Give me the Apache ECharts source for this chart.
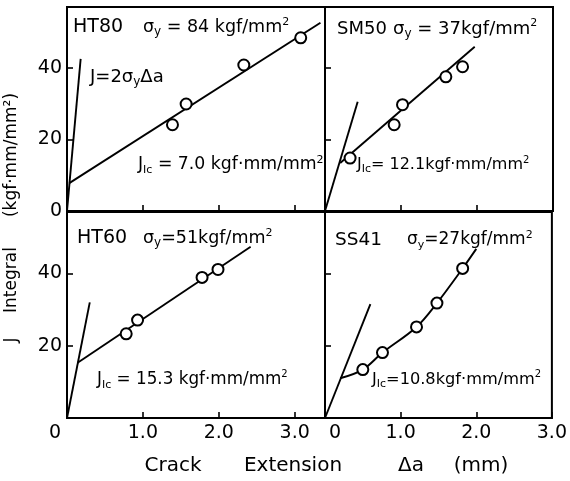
<!DOCTYPE html>
<html>
<head>
<meta charset="utf-8">
<script src="https://cdn.jsdelivr.net/npm/echarts@6/dist/echarts.min.js"></script>
<style>html,body{margin:0;padding:0;background:#fff}#c{width:570px;height:481px}</style>
</head>
<body>
<div id="c"></div>
<script>
// ---- data (Δa in mm, J in kgf·mm/mm²) ----
const xTicks = [0, 1, 2, 3];
const yTicks = [0, 20, 40];

// HT80
const ht80Da = [1.39, 1.57, 2.33, 3.08];
const ht80J = [24.1, 29.9, 40.8, 48.4];
const ht80FitDa = [0.03, 3.34];
const ht80FitJ = [7.8, 52.6];
const ht80BluntDa = [0, 0.18];
const ht80BluntJ = [0, 42.5];

// SM50
const sm50Da = [0.33, 0.91, 1.02, 1.59, 1.81];
const sm50J = [14.8, 24.1, 29.7, 37.5, 40.3];
const sm50FitDa = [0.2, 1.97];
const sm50FitJ = [13.4, 45.9];
const sm50BluntDa = [0, 0.43];
const sm50BluntJ = [0, 30.5];

// HT60
const ht60Da = [0.78, 0.93, 1.78, 1.99];
const ht60J = [23.3, 27.1, 38.9, 41.1];
const ht60FitDa = [0.14, 2.42];
const ht60FitJ = [15.3, 47.4];
const ht60BluntDa = [0, 0.30];
const ht60BluntJ = [0, 32];

// SS41
const ss41Da = [0.50, 0.76, 1.21, 1.48, 1.82];
const ss41J = [13.4, 18.1, 25.2, 31.8, 41.4];
const ss41CurveDa = [0.2, 0.5, 0.76, 1.21, 1.48, 1.82, 2.0];
const ss41CurveJ = [11, 13.4, 18.1, 25.2, 31.8, 41.4, 46.8];
const ss41BluntDa = [0, 0.60];
const ss41BluntJ = [0, 31.5];

// ---- build ----
const zip = (a, b) => a.map((v, i) => [v, b[i]]);
const FONT = 'DejaVu Sans';
const BLACK = '#000';

const grids = [
  {left: 67, top: 7, width: 258, height: 204},
  {left: 325, top: 7, width: 228, height: 204},
  {left: 67, top: 212, width: 258, height: 206},
  {left: 325, top: 212, width: 228, height: 206}
].map(g => Object.assign(g, {show: true, borderColor: BLACK, borderWidth: 2, backgroundColor: 'transparent'}));

function xAxis(i, max, labels) {
  return {
    type: 'value', gridIndex: i, min: 0, max: max, interval: 1,
    axisLine: {show: true, lineStyle: {color: BLACK, width: 2}},
    axisTick: {show: true, inside: true, length: 6, lineStyle: {color: BLACK, width: 1.6},
      customValues: xTicks.slice(1)},
    splitLine: {show: false},
    axisLabel: labels ? {
      show: true, color: BLACK, fontFamily: FONT, fontSize: 19, margin: 6,
      customValues: xTicks,
      formatter: v => v === 0 ? (labels === 'left' ? '{l|0}' : '{r|0}') : v.toFixed(1),
      rich: {
        l: {fontFamily: FONT, fontSize: 19, color: BLACK, padding: [0, 24, 0, 0]},
        r: {fontFamily: FONT, fontSize: 19, color: BLACK, padding: [0, 0, 0, 20]}
      }
    } : {show: false}
  };
}
function yAxis(i, labels, showZero) {
  return {
    type: 'value', gridIndex: i, min: 0, max: 57, interval: 20,
    axisLine: {show: true, lineStyle: {color: BLACK, width: 2}},
    axisTick: {show: true, inside: true, length: 6, lineStyle: {color: BLACK, width: 1.6},
      customValues: [20, 40]},
    splitLine: {show: false},
    axisLabel: labels ? {
      show: true, color: BLACK, fontFamily: FONT, fontSize: 19, margin: 5,
      customValues: showZero ? yTicks : yTicks.slice(1),
      formatter: v => String(v)
    } : {show: false}
  };
}

function scatter(i, xs, ys) {
  return {type: 'scatter', xAxisIndex: i, yAxisIndex: i, data: zip(xs, ys),
    symbol: 'circle', symbolSize: 11, z: 5,
    itemStyle: {color: '#fff', borderColor: BLACK, borderWidth: 2, opacity: 1},
    emphasis: {disabled: true}};
}
function line(i, xs, ys, smooth) {
  return {type: 'line', xAxisIndex: i, yAxisIndex: i, data: zip(xs, ys),
    showSymbol: false, symbol: 'none', smooth: smooth || false, z: 3,
    lineStyle: {color: BLACK, width: 1.9}};
}

function richFor(fs) {
  return {
    n: {fontFamily: FONT, fontSize: fs, color: BLACK, lineHeight: fs + 4},
    s: {fontFamily: FONT, fontSize: Math.round(fs * 0.66), color: BLACK, lineHeight: Math.round(fs * 0.78), verticalAlign: 'bottom'},
    p: {fontFamily: FONT, fontSize: Math.round(fs * 0.62), color: BLACK, lineHeight: Math.round(fs * 0.68), verticalAlign: 'top'}
  };
}
function txt(x, y, text, fs) {
  return {type: 'text', x: x, y: y, z: 10,
    style: {text: text, rich: richFor(fs || 18), align: 'left', verticalAlign: 'middle', fill: BLACK}};
}
const sig = v => '{n|σ}{s|y}{n|' + v + '}';
const mm2 = '{n|kgf/mm}{p|2}';
const jic = v => '{n|J}{s|Ic}{n|' + v + '}';
const kmm2 = '{n|kgf·mm/mm}{p|2}';

const graphics = [
  txt(73, 27, '{n|HT80}', 19),
  txt(143, 27, sig(' = 84 ') + mm2, 17.5),
  txt(90, 77, '{n|J=2σ}{s|y}{n|Δa}', 18),
  txt(138, 165, jic(' = 7.0 ') + kmm2, 17.3),
  txt(337, 29, '{n|SM50}', 18),
  txt(393, 29, sig(' = 37') + mm2, 18),
  txt(357, 165, jic('= 12.1') + kmm2, 16),
  txt(77, 238, '{n|HT60}', 19),
  txt(143, 238, sig('=51') + mm2, 17.5),
  txt(97, 380, jic(' = 15.3 ') + kmm2, 16.8),
  txt(335, 240, '{n|SS41}', 18.5),
  txt(407, 240, sig('=27') + mm2, 17),
  txt(372, 380, jic('=10.8') + kmm2, 16.2),
  // axis titles
  {type: 'text', x: 12, y: 340, rotation: Math.PI / 2, style: {text: 'J', font: '17px "DejaVu Sans"', fill: BLACK, align: 'center', verticalAlign: 'middle'}},
  {type: 'text', x: 12, y: 280, rotation: Math.PI / 2, style: {text: 'Integral', font: '17px "DejaVu Sans"', fill: BLACK, align: 'center', verticalAlign: 'middle'}},
  {type: 'text', x: 12, y: 155, rotation: Math.PI / 2, style: {text: '(kgf·mm/mm²)', font: '17px "DejaVu Sans"', fill: BLACK, align: 'center', verticalAlign: 'middle'}},
  {type: 'text', x: 173, y: 466, style: {text: 'Crack', font: '20px "DejaVu Sans"', fill: BLACK, align: 'center', verticalAlign: 'middle'}},
  {type: 'text', x: 293, y: 466, style: {text: 'Extension', font: '20px "DejaVu Sans"', fill: BLACK, align: 'center', verticalAlign: 'middle'}},
  {type: 'text', x: 411, y: 466, style: {text: 'Δa', font: '20px "DejaVu Sans"', fill: BLACK, align: 'center', verticalAlign: 'middle'}},
  {type: 'text', x: 481, y: 466, style: {text: '(mm)', font: '20px "DejaVu Sans"', fill: BLACK, align: 'center', verticalAlign: 'middle'}}
];

const option = {
  animation: false,
  backgroundColor: '#fff',
  grid: grids,
  xAxis: [xAxis(0, 3.4, null), xAxis(1, 3.0, null), xAxis(2, 3.4, 'left'), xAxis(3, 3.0, 'right')],
  yAxis: [yAxis(0, true, true), yAxis(1, false), yAxis(2, true, false), yAxis(3, false)],
  series: [
    scatter(0, ht80Da, ht80J), line(0, ht80FitDa, ht80FitJ), line(0, ht80BluntDa, ht80BluntJ),
    scatter(1, sm50Da, sm50J), line(1, sm50FitDa, sm50FitJ), line(1, sm50BluntDa, sm50BluntJ),
    scatter(2, ht60Da, ht60J), line(2, ht60FitDa, ht60FitJ), line(2, ht60BluntDa, ht60BluntJ),
    scatter(3, ss41Da, ss41J), line(3, ss41CurveDa, ss41CurveJ, 0.35), line(3, ss41BluntDa, ss41BluntJ)
  ],
  graphic: graphics
};
const chart = echarts.init(document.getElementById('c'), null, {renderer: 'canvas'});
chart.setOption(option);
</script>
</body>
</html>
